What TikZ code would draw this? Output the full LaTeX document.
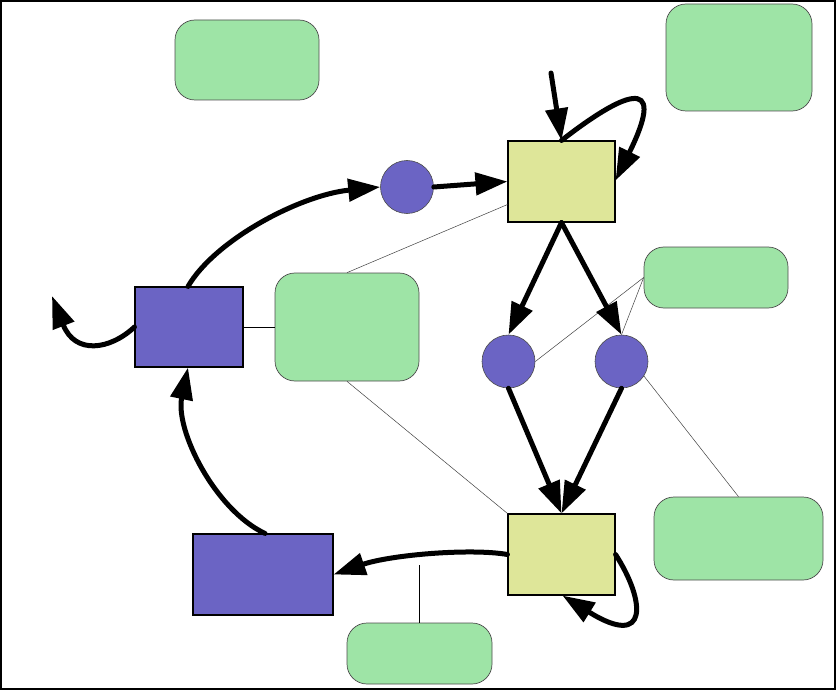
\documentclass[tikz,border=0pt]{standalone}
\usetikzlibrary{arrows.meta}
\definecolor{notegreen}{RGB}{158,228,166}
\definecolor{boxyellow}{RGB}{222,230,153}
\definecolor{boxblue}{RGB}{107,100,196}
\begin{document}
\begin{tikzpicture}[x=1pt,y=-1pt,
  note/.style={draw=black!70, line width=0.7pt, fill=notegreen, rounded corners=20pt, inner sep=0pt, minimum width=#1},
  ybox/.style={draw=black, line width=1.1pt, fill=boxyellow, inner sep=0pt, minimum width=107pt, minimum height=81pt},
  bbox/.style={draw=black, line width=1.1pt, fill=boxblue, inner sep=0pt},
  dot/.style={circle, draw=black!70, line width=0.6pt, fill=boxblue, inner sep=0pt, minimum size=53pt},
  flow/.style={line width=5pt, line cap=round, -{Triangle[length=32pt,width=22pt]}},
  thin/.style={draw=black!75, line width=0.5pt}]
\useasboundingbox (0,0) rectangle (836,690);
\draw[line width=2pt] (1,1) rectangle (835,689);

% notes
\node[note=144pt, minimum height=80pt] (g1) at (247,60) {};
\node[note=146pt, minimum height=107pt] (g2) at (739,57.5) {};
\node[note=144pt, minimum height=61pt] (g3) at (716,277.5) {};
\node[note=144pt, minimum height=108pt] (g4) at (347,327) {};
\node[note=169pt, minimum height=83pt] (g5) at (738.5,538.5) {};
\node[note=145pt, minimum height=61pt] (g6) at (419.5,653.5) {};

% main nodes
\node[ybox] (y1) at (561.5,181.5) {};
\node[ybox] (y2) at (561.5,554.5) {};
\node[dot] (c0) at (407,187) {};
\node[dot] (c1) at (508.5,361.5) {};
\node[dot] (c2) at (621.5,361.5) {};
\node[bbox, minimum width=108pt, minimum height=80pt] (b1) at (189,327) {};
\node[bbox, minimum width=140pt, minimum height=81pt] (b2) at (263,574.5) {};

% thin annotation lines
\draw[thin] ([yshift=18pt]y1.south west) -- (g4.north);
\draw[black, line width=1pt] (b1.east) -- (g4.west);
\draw[thin] (g4.south) -- (y2.north west);
\draw[thin] (g3.west) -- (c1.east);
\draw[thin] (g3.west) -- (c2.north);
\draw[thin] (c2.-33) -- (g5.north);
\coordinate (t7) at (419.5,565);
\draw[black, line width=0.8pt] (g6.north) -- (t7);

% flows
\coordinate (in1) at (551,73);
\coordinate (out1) at (52,296);
\draw[flow] ([xshift=-1pt]b1.north) .. controls (215,240) and (300,195) .. (c0.west);
\draw[flow] (c0.east) -- (y1.west);
\draw[flow] (in1) -- (y1.north);
\draw[flow] (y1.north) .. controls (620,95) and (670,70) .. ([yshift=1pt]y1.east);
\draw[flow] (y1.south) -- (c1.north);
\draw[flow] (y1.south) -- (c2.north);
\draw[flow] (c1.south) -- (y2.north);
\draw[flow] (c2.south) -- (y2.north);
\draw[flow] (y2.east) .. controls (645,600) and (650,650) .. ([xshift=1pt]y2.south);
\draw[flow] (y2.west) .. controls (470,548) and (390,555) .. (b2.east);
\draw[flow] ([xshift=2pt]b2.north) .. controls (215,510) and (175,430) .. ([xshift=-1pt]b1.south);
\draw[flow] (b1.west) .. controls (110,350) and (75,355) .. (out1);
\end{tikzpicture}
\end{document}
